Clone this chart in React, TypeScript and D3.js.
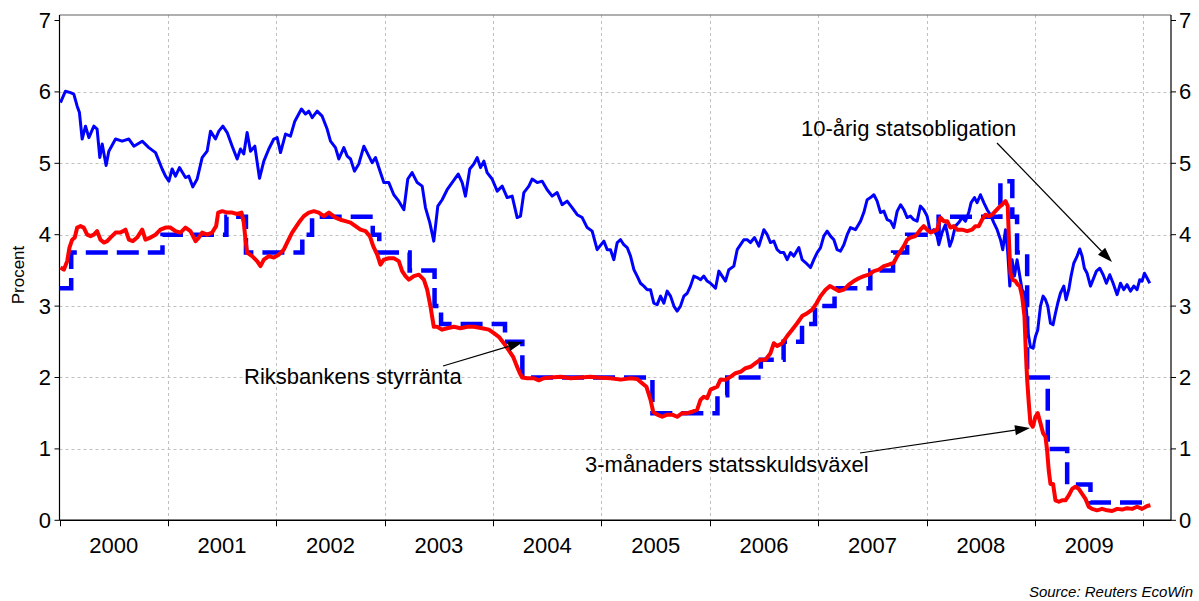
import { useEffect, useRef } from 'react'
import * as d3 from 'd3'

const W = 1199
const H = 601
const X0 = 59.5
const X1 = 1171
const Y_TOP = 15
const Y_ZERO = 520.3
const Y_SEVEN = 20.5

// 10-årig statsobligation (decimal year, %)
const BOND: [number, number][] = [
  [2000.009, 5.85], [2000.055, 6.01], [2000.101, 5.99], [2000.132, 5.97], [2000.163, 5.80], [2000.184, 5.71],
  [2000.209, 5.34], [2000.240, 5.52], [2000.271, 5.36], [2000.317, 5.52], [2000.347, 5.48], [2000.372, 5.08],
  [2000.394, 5.27], [2000.430, 4.97], [2000.455, 5.17], [2000.517, 5.34], [2000.578, 5.31], [2000.640, 5.34],
  [2000.686, 5.24], [2000.763, 5.31], [2000.824, 5.22], [2000.886, 5.15], [2000.947, 4.92], [2000.978, 4.82],
  [2001.009, 4.75], [2001.039, 4.92], [2001.070, 4.82], [2001.107, 4.94], [2001.162, 4.80], [2001.193, 4.82],
  [2001.230, 4.67], [2001.270, 4.78], [2001.316, 5.08], [2001.362, 5.17], [2001.393, 5.45], [2001.439, 5.34],
  [2001.470, 5.45], [2001.507, 5.52], [2001.547, 5.43], [2001.593, 5.24], [2001.639, 5.06], [2001.670, 5.20],
  [2001.700, 5.13], [2001.731, 5.43], [2001.762, 5.17], [2001.802, 5.24], [2001.845, 4.79], [2001.885, 5.03],
  [2001.931, 5.20], [2001.977, 5.34], [2002.008, 5.36], [2002.039, 5.15], [2002.085, 5.41], [2002.131, 5.38],
  [2002.171, 5.59], [2002.232, 5.76], [2002.269, 5.69], [2002.300, 5.73], [2002.331, 5.64], [2002.377, 5.73],
  [2002.423, 5.66], [2002.469, 5.48], [2002.500, 5.31], [2002.546, 5.22], [2002.577, 5.06], [2002.623, 5.22],
  [2002.654, 5.10], [2002.685, 5.06], [2002.721, 4.89], [2002.761, 4.99], [2002.808, 5.24], [2002.854, 5.10],
  [2002.884, 5.01], [2002.915, 5.08], [2002.961, 4.87], [2002.992, 4.73], [2003.038, 4.73], [2003.084, 4.56],
  [2003.130, 4.47], [2003.177, 4.35], [2003.213, 4.78], [2003.253, 4.87], [2003.300, 4.73], [2003.346, 4.68],
  [2003.376, 4.38], [2003.416, 4.17], [2003.453, 3.91], [2003.490, 4.40], [2003.530, 4.49], [2003.576, 4.63],
  [2003.622, 4.73], [2003.678, 4.85], [2003.715, 4.73], [2003.745, 4.54], [2003.785, 4.92], [2003.822, 4.99],
  [2003.853, 5.08], [2003.884, 4.94], [2003.915, 5.03], [2003.945, 4.87], [2003.991, 4.78], [2004.038, 4.61],
  [2004.084, 4.68], [2004.130, 4.52], [2004.176, 4.54], [2004.222, 4.24], [2004.253, 4.26], [2004.284, 4.59],
  [2004.330, 4.68], [2004.360, 4.78], [2004.407, 4.73], [2004.453, 4.75], [2004.499, 4.63], [2004.545, 4.54],
  [2004.591, 4.59], [2004.637, 4.42], [2004.683, 4.47], [2004.729, 4.38], [2004.776, 4.28], [2004.822, 4.24],
  [2004.868, 4.10], [2004.914, 4.05], [2004.960, 3.79], [2005.022, 3.91], [2005.053, 3.79], [2005.083, 3.79],
  [2005.114, 3.65], [2005.145, 3.89], [2005.176, 3.93], [2005.206, 3.86], [2005.237, 3.82], [2005.268, 3.70],
  [2005.299, 3.51], [2005.329, 3.42], [2005.360, 3.32], [2005.391, 3.28], [2005.422, 3.23], [2005.452, 3.23],
  [2005.483, 3.04], [2005.514, 3.02], [2005.545, 3.14], [2005.575, 3.04], [2005.606, 3.21], [2005.637, 3.14],
  [2005.668, 3.00], [2005.698, 2.93], [2005.729, 3.00], [2005.760, 3.14], [2005.791, 3.18], [2005.821, 3.28],
  [2005.852, 3.42], [2005.883, 3.40], [2005.914, 3.37], [2005.944, 3.42], [2005.975, 3.35], [2006.006, 3.32],
  [2006.052, 3.25], [2006.083, 3.49], [2006.113, 3.42], [2006.144, 3.35], [2006.175, 3.51], [2006.221, 3.56],
  [2006.252, 3.79], [2006.283, 3.86], [2006.313, 3.93], [2006.344, 3.93], [2006.375, 3.89], [2006.412, 3.96],
  [2006.452, 3.84], [2006.498, 4.07], [2006.529, 4.00], [2006.559, 3.89], [2006.590, 3.91], [2006.621, 3.79],
  [2006.652, 3.75], [2006.682, 3.75], [2006.713, 3.65], [2006.744, 3.75], [2006.775, 3.70], [2006.821, 3.82],
  [2006.851, 3.65], [2006.882, 3.61], [2006.928, 3.54], [2006.959, 3.65], [2006.990, 3.75], [2007.021, 3.82],
  [2007.051, 3.98], [2007.082, 4.05], [2007.113, 3.98], [2007.144, 3.93], [2007.174, 3.79], [2007.205, 3.77],
  [2007.236, 3.86], [2007.267, 4.00], [2007.297, 4.10], [2007.343, 4.07], [2007.390, 4.19], [2007.420, 4.31],
  [2007.451, 4.49], [2007.482, 4.52], [2007.513, 4.56], [2007.543, 4.47], [2007.574, 4.31], [2007.605, 4.33],
  [2007.636, 4.21], [2007.666, 4.19], [2007.697, 4.10], [2007.728, 4.33], [2007.760, 4.42], [2007.789, 4.35],
  [2007.820, 4.24], [2007.850, 4.26], [2007.881, 4.21], [2007.912, 4.19], [2007.942, 4.40], [2007.973, 4.35],
  [2008.004, 4.26], [2008.035, 4.03], [2008.066, 4.07], [2008.096, 3.98], [2008.112, 3.86], [2008.142, 4.03],
  [2008.173, 4.14], [2008.189, 4.03], [2008.213, 3.84], [2008.235, 3.93], [2008.265, 4.12], [2008.296, 4.17],
  [2008.327, 4.24], [2008.358, 4.19], [2008.388, 4.31], [2008.410, 4.45], [2008.441, 4.52], [2008.465, 4.45],
  [2008.496, 4.56], [2008.527, 4.45], [2008.558, 4.35], [2008.588, 4.28], [2008.619, 4.17], [2008.650, 4.07],
  [2008.681, 3.93], [2008.702, 3.79], [2008.727, 4.07], [2008.748, 3.75], [2008.767, 3.28], [2008.788, 3.65],
  [2008.810, 3.42], [2008.834, 3.65], [2008.859, 3.42], [2008.880, 3.23], [2008.902, 3.18], [2008.920, 2.95],
  [2008.936, 2.62], [2008.957, 2.43], [2008.982, 2.41], [2009.003, 2.57], [2009.025, 2.67], [2009.050, 3.00],
  [2009.074, 3.14], [2009.096, 3.09], [2009.117, 3.00], [2009.142, 2.76], [2009.166, 2.74], [2009.188, 2.90],
  [2009.209, 3.04], [2009.234, 3.18], [2009.265, 3.28], [2009.286, 3.09], [2009.311, 3.23], [2009.332, 3.42],
  [2009.357, 3.60], [2009.388, 3.70], [2009.412, 3.80], [2009.434, 3.70], [2009.455, 3.53], [2009.480, 3.46],
  [2009.511, 3.28], [2009.535, 3.37], [2009.566, 3.49], [2009.597, 3.53], [2009.628, 3.44], [2009.658, 3.32],
  [2009.689, 3.44], [2009.720, 3.32], [2009.757, 3.16], [2009.788, 3.32], [2009.818, 3.23], [2009.849, 3.30],
  [2009.880, 3.21], [2009.911, 3.28], [2009.941, 3.23], [2009.966, 3.37], [2009.987, 3.35], [2010.009, 3.46],
  [2010.034, 3.39], [2010.058, 3.32],
]

// 3-månaders statsskuldsväxel
const TBILL: [number, number][] = [
  [2000.009, 3.54], [2000.040, 3.51], [2000.071, 3.63], [2000.092, 3.82], [2000.117, 3.93], [2000.141, 3.96],
  [2000.163, 4.10], [2000.194, 4.12], [2000.224, 4.10], [2000.255, 4.00], [2000.286, 3.98], [2000.317, 4.00],
  [2000.347, 4.05], [2000.378, 3.93], [2000.409, 3.89], [2000.440, 3.91], [2000.470, 3.96], [2000.517, 4.03],
  [2000.563, 4.03], [2000.609, 4.07], [2000.640, 3.93], [2000.676, 3.91], [2000.716, 3.96], [2000.763, 4.07],
  [2000.793, 3.93], [2000.839, 3.96], [2000.886, 4.00], [2000.931, 4.07], [2000.978, 4.10], [2001.024, 4.10],
  [2001.070, 4.05], [2001.116, 4.03], [2001.162, 4.10], [2001.208, 4.05], [2001.255, 3.91], [2001.285, 3.96],
  [2001.316, 4.03], [2001.362, 4.00], [2001.408, 4.03], [2001.445, 4.12], [2001.464, 4.31], [2001.501, 4.33],
  [2001.547, 4.31], [2001.593, 4.31], [2001.639, 4.29], [2001.679, 4.31], [2001.700, 4.17], [2001.716, 3.93],
  [2001.731, 3.75], [2001.777, 3.70], [2001.823, 3.63], [2001.854, 3.56], [2001.885, 3.65], [2001.931, 3.70],
  [2001.977, 3.68], [2002.023, 3.72], [2002.069, 3.79], [2002.100, 3.89], [2002.146, 4.03], [2002.177, 4.10],
  [2002.208, 4.17], [2002.254, 4.26], [2002.300, 4.31], [2002.346, 4.33], [2002.392, 4.31], [2002.438, 4.26],
  [2002.485, 4.31], [2002.546, 4.24], [2002.592, 4.21], [2002.638, 4.19], [2002.685, 4.17], [2002.731, 4.12],
  [2002.777, 4.07], [2002.823, 4.05], [2002.863, 3.98], [2002.894, 3.84], [2002.931, 3.72], [2002.961, 3.58],
  [2002.992, 3.65], [2003.038, 3.67], [2003.084, 3.67], [2003.130, 3.63], [2003.161, 3.49], [2003.192, 3.42],
  [2003.223, 3.37], [2003.269, 3.42], [2003.315, 3.44], [2003.361, 3.37], [2003.392, 3.23], [2003.423, 2.99],
  [2003.453, 2.71], [2003.484, 2.71], [2003.530, 2.67], [2003.576, 2.69], [2003.638, 2.71], [2003.699, 2.69],
  [2003.761, 2.71], [2003.822, 2.71], [2003.899, 2.69], [2003.961, 2.67], [2004.007, 2.62], [2004.053, 2.57],
  [2004.099, 2.48], [2004.145, 2.38], [2004.185, 2.29], [2004.216, 2.17], [2004.247, 2.06], [2004.268, 2.00],
  [2004.314, 1.99], [2004.376, 1.99], [2004.422, 1.96], [2004.468, 1.99], [2004.530, 2.00], [2004.622, 2.01],
  [2004.714, 1.99], [2004.806, 2.00], [2004.899, 2.01], [2004.960, 2.00], [2005.083, 1.99], [2005.176, 1.97],
  [2005.268, 1.99], [2005.329, 1.98], [2005.375, 1.92], [2005.415, 1.87], [2005.452, 1.69], [2005.477, 1.52],
  [2005.514, 1.48], [2005.560, 1.45], [2005.606, 1.48], [2005.652, 1.48], [2005.698, 1.45], [2005.744, 1.50],
  [2005.791, 1.50], [2005.837, 1.52], [2005.883, 1.55], [2005.914, 1.69], [2005.944, 1.73], [2005.975, 1.71],
  [2006.006, 1.83], [2006.037, 1.85], [2006.067, 1.87], [2006.098, 1.97], [2006.144, 1.97], [2006.190, 2.01],
  [2006.236, 2.06], [2006.283, 2.08], [2006.329, 2.13], [2006.375, 2.15], [2006.421, 2.20], [2006.467, 2.25],
  [2006.513, 2.25], [2006.559, 2.34], [2006.590, 2.48], [2006.621, 2.44], [2006.667, 2.48], [2006.713, 2.58],
  [2006.759, 2.67], [2006.805, 2.76], [2006.851, 2.86], [2006.898, 2.90], [2006.944, 2.95], [2006.984, 3.04],
  [2007.021, 3.14], [2007.067, 3.23], [2007.107, 3.28], [2007.144, 3.25], [2007.190, 3.21], [2007.236, 3.23],
  [2007.282, 3.30], [2007.328, 3.35], [2007.374, 3.39], [2007.420, 3.42], [2007.466, 3.44], [2007.513, 3.49],
  [2007.559, 3.51], [2007.605, 3.56], [2007.651, 3.58], [2007.697, 3.61], [2007.728, 3.70], [2007.789, 3.84],
  [2007.820, 3.93], [2007.850, 3.96], [2007.896, 3.98], [2007.942, 4.07], [2007.973, 4.12], [2008.004, 4.07],
  [2008.035, 4.03], [2008.066, 4.05], [2008.096, 4.07], [2008.127, 4.24], [2008.158, 4.19], [2008.189, 4.19],
  [2008.219, 4.10], [2008.250, 4.12], [2008.281, 4.07], [2008.327, 4.07], [2008.373, 4.05], [2008.419, 4.07],
  [2008.450, 4.12], [2008.481, 4.12], [2008.511, 4.21], [2008.542, 4.28], [2008.573, 4.26], [2008.604, 4.28],
  [2008.634, 4.33], [2008.665, 4.38], [2008.696, 4.42], [2008.727, 4.47], [2008.748, 4.40], [2008.760, 3.89],
  [2008.773, 3.46], [2008.794, 3.37], [2008.819, 3.35], [2008.840, 3.30], [2008.859, 3.28], [2008.880, 3.14],
  [2008.902, 2.86], [2008.914, 2.39], [2008.927, 1.97], [2008.942, 1.64], [2008.957, 1.36], [2008.979, 1.31],
  [2009.003, 1.45], [2009.025, 1.50], [2009.050, 1.36], [2009.074, 1.22], [2009.096, 1.17], [2009.111, 0.98],
  [2009.126, 0.70], [2009.142, 0.51], [2009.166, 0.51], [2009.188, 0.28], [2009.219, 0.26], [2009.249, 0.28],
  [2009.280, 0.28], [2009.311, 0.35], [2009.342, 0.44], [2009.372, 0.47], [2009.403, 0.44], [2009.434, 0.37],
  [2009.465, 0.30], [2009.495, 0.19], [2009.526, 0.16], [2009.572, 0.14], [2009.618, 0.16], [2009.665, 0.14],
  [2009.711, 0.13], [2009.757, 0.16], [2009.803, 0.15], [2009.849, 0.17], [2009.895, 0.16], [2009.941, 0.19],
  [2009.987, 0.16], [2010.034, 0.20], [2010.064, 0.21],
]

// Riksbankens styrränta (step changes)
const REPO: [number, number][] = [
  [2000.0, 3.25], [2000.108, 3.75], [2000.95, 4.0], [2001.54, 4.25], [2001.72, 3.75], [2002.24, 4.0],
  [2002.33, 4.25], [2002.89, 4.0], [2002.95, 3.75], [2003.23, 3.5], [2003.46, 3.0], [2003.52, 2.75],
  [2004.11, 2.5], [2004.27, 2.0], [2005.47, 1.5], [2006.07, 1.75], [2006.16, 2.0], [2006.47, 2.25],
  [2006.68, 2.5], [2006.85, 2.75], [2006.97, 3.0], [2007.15, 3.25], [2007.48, 3.5], [2007.69, 3.75],
  [2007.82, 4.0], [2008.11, 4.25], [2008.68, 4.75], [2008.79, 4.25], [2008.834, 3.75], [2008.927, 2.0],
  [2009.117, 1.0], [2009.296, 0.5], [2009.511, 0.25], [2010.058, 0.25],
]

const YEARS = [2000, 2001, 2002, 2003, 2004, 2005, 2006, 2007, 2008, 2009]
const Y_TICKS = [0, 1, 2, 3, 4, 5, 6, 7]

const FONT = 'Arial, "Liberation Sans", sans-serif'

export default function App() {
  const ref = useRef<SVGSVGElement>(null)

  useEffect(() => {
    document.body.style.margin = '0'
    const svg = d3.select(ref.current)
    svg.selectAll('*').remove()

    const x = d3.scaleLinear().domain([2000, 2010.254]).range([X0, X1])
    const y = d3.scaleLinear().domain([0, 7]).range([Y_ZERO, Y_SEVEN])

    // gridlines
    const grid = svg.append('g').attr('stroke', '#c0c0c0').attr('stroke-width', 1).attr('stroke-dasharray', '3,3')
    Y_TICKS.filter((t) => t > 0 && t < 7).forEach((t) => {
      grid.append('line').attr('x1', X0).attr('x2', X1).attr('y1', Math.round(y(t)) + 0.5).attr('y2', Math.round(y(t)) + 0.5)
    })
    YEARS.slice(1).concat([2010]).forEach((yr) => {
      const gx = Math.round(x(yr)) + 0.5
      grid.append('line').attr('x1', gx).attr('x2', gx).attr('y1', Y_TOP).attr('y2', Y_ZERO)
    })

    // frame
    svg.append('line').attr('x1', X0).attr('x2', X1).attr('y1', Y_TOP).attr('y2', Y_TOP)
      .attr('stroke', '#606060').attr('stroke-width', 1.2)
    svg.append('line').attr('x1', X0).attr('x2', X0).attr('y1', Y_TOP).attr('y2', Y_ZERO)
      .attr('stroke', '#000').attr('stroke-width', 1.2)
    svg.append('line').attr('x1', X1).attr('x2', X1).attr('y1', Y_TOP).attr('y2', Y_ZERO)
      .attr('stroke', '#000').attr('stroke-width', 1.2)

    // y ticks + labels, both sides
    Y_TICKS.forEach((t) => {
      const ty = y(t)
      svg.append('line').attr('x1', X0 - 5).attr('x2', X0).attr('y1', ty).attr('y2', ty).attr('stroke', '#000')
      svg.append('line').attr('x1', X1).attr('x2', X1 + 5).attr('y1', ty).attr('y2', ty).attr('stroke', '#000')
      svg.append('text').attr('x', 51).attr('y', ty).attr('text-anchor', 'end').attr('dominant-baseline', 'central')
        .attr('font-family', FONT).attr('font-size', 22).text(t)
      svg.append('text').attr('x', 1179).attr('y', ty).attr('text-anchor', 'start').attr('dominant-baseline', 'central')
        .attr('font-family', FONT).attr('font-size', 22).text(t)
    })

    // x axis
    svg.append('line').attr('x1', X0).attr('x2', X1).attr('y1', Y_ZERO).attr('y2', Y_ZERO)
      .attr('stroke', '#000').attr('stroke-width', 1.5)
    YEARS.concat([2010]).forEach((yr) => {
      const tx = Math.round(x(yr)) + 0.5
      svg.append('line').attr('x1', tx).attr('x2', tx).attr('y1', Y_ZERO).attr('y2', Y_ZERO + 6).attr('stroke', '#000')
    })
    YEARS.forEach((yr) => {
      svg.append('text').attr('x', x(yr + 0.5)).attr('y', 553).attr('text-anchor', 'middle')
        .attr('font-family', FONT).attr('font-size', 22).text(yr)
    })

    svg.append('text').attr('transform', 'translate(24,275) rotate(-90)').attr('text-anchor', 'middle')
      .attr('font-family', FONT).attr('font-size', 17).text('Procent')

    // series
    const line = d3.line<[number, number]>().x((d) => x(d[0])).y((d) => y(d[1]))
    const step = d3.line<[number, number]>().x((d) => x(d[0])).y((d) => y(d[1])).curve(d3.curveStepAfter)

    svg.append('path').datum(BOND).attr('d', line).attr('fill', 'none')
      .attr('stroke', '#0000ff').attr('stroke-width', 3).attr('stroke-linejoin', 'round')
    svg.append('path').datum(REPO).attr('d', step).attr('fill', 'none')
      .attr('stroke', '#0000ff').attr('stroke-width', 4.5).attr('stroke-dasharray', '22,9')
    svg.append('path').datum(TBILL).attr('d', line).attr('fill', 'none')
      .attr('stroke', '#ff0000').attr('stroke-width', 4).attr('stroke-linejoin', 'round')

    // annotations
    const arrow = (x1: number, y1: number, x2: number, y2: number) => {
      const a = Math.atan2(y2 - y1, x2 - x1)
      const len = 15
      const wid = 5
      const bx = x2 - len * Math.cos(a)
      const by = y2 - len * Math.sin(a)
      svg.append('line').attr('x1', x1).attr('y1', y1).attr('x2', bx).attr('y2', by)
        .attr('stroke', '#000').attr('stroke-width', 1.2)
      const p = [
        [x2, y2],
        [bx + wid * Math.sin(a), by - wid * Math.cos(a)],
        [bx - wid * Math.sin(a), by + wid * Math.cos(a)],
      ]
      svg.append('polygon').attr('points', p.map((q) => q.join(',')).join(' ')).attr('fill', '#000')
    }

    const label = (tx: number, ty: number, s: string) =>
      svg.append('text').attr('x', tx).attr('y', ty).attr('font-family', FONT).attr('font-size', 22).text(s)

    label(801, 136, '10-årig statsobligation')
    arrow(997, 143, 1112, 262)
    label(244, 384, 'Riksbankens styrränta')
    arrow(443, 366, 523, 342)
    label(585, 472, '3-månaders statsskuldsväxel')
    arrow(860, 453, 1030, 428)

    svg.append('text').attr('x', 1193).attr('y', 597).attr('text-anchor', 'end')
      .attr('font-family', FONT).attr('font-size', 15).attr('font-style', 'italic').text('Source: Reuters EcoWin')
  }, [])

  return <svg ref={ref} width={W} height={H} style={{ display: 'block', background: '#fff' }} />
}
